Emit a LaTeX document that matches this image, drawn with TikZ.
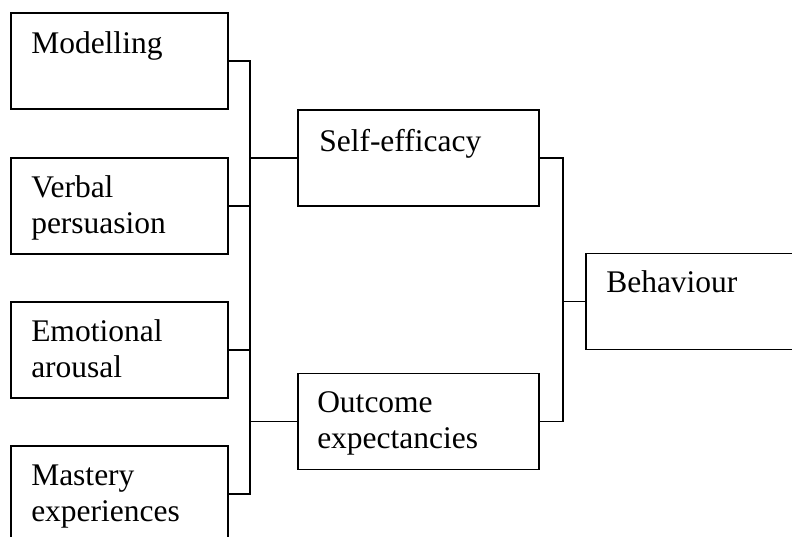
\documentclass[tikz,border=0pt]{standalone}
\usepackage{fontspec}
\setmainfont{Liberation Serif}
\begin{document}
\begin{tikzpicture}[x=1pt,y=-1pt,
  box/.style={draw=black,line width=1.9pt,rectangle,inner sep=0pt,fill=white},
  lbox/.style={box,minimum width=217pt,minimum height=96pt},
  mbox/.style={box,minimum width=241pt,minimum height=96pt},
  txt/.style={anchor=base west,inner sep=0pt,align=left,font=\fontsize{31.5}{36}\selectfont},
  conn/.style={draw=black,line width=1.9pt}]
\useasboundingbox (0,0) rectangle (792,537);
\clip (0,0) rectangle (792,537);
% left boxes
\node[lbox] (mod) at (119.5,61) {};
\node[lbox] (ver) at (119.5,206) {};
\node[lbox] (emo) at (119.5,350) {};
\node[lbox] (mas) at (119.5,494) {};
\node[txt] (tmod) at ([xshift=21pt,yshift=-41pt]mod.north west) {Modelling};
\node[txt] (tver) at ([xshift=21pt,yshift=-76pt]ver.north west) {Verbal\\persuasion};
\node[txt] (temo) at ([xshift=21pt,yshift=-76pt]emo.north west) {Emotional\\arousal};
\node[txt] (tmas) at ([xshift=21pt,yshift=-76pt]mas.north west) {Mastery\\experiences};
% middle boxes
\node[mbox] (se) at (418.5,158) {};
\node[mbox] (oe) at (418.5,421.5) {};
\node[txt] (tse) at ([xshift=22pt,yshift=-42pt]se.north west) {Self-efficacy};
\node[txt] (toe) at ([xshift=20pt,yshift=-76pt]oe.north west) {Outcome\\expectancies};
% behaviour
\node[mbox] (beh) at (706.5,301.5) {};
\node[txt] (tbeh) at ([xshift=21pt,yshift=-40pt]beh.north west) {Behaviour};
% junction coordinates
\coordinate (j1) at (250,0);
\coordinate (j2) at (563,0);
% left bracket
\draw[conn] (mod.east) -- (mod.east -| j1) -- (mas.east -| j1) -- (mas.east);
\draw[conn] (ver.east) -- (ver.east -| j1);
\draw[conn] (emo.east) -- (emo.east -| j1);
\draw[conn] (se.west -| j1) -- (se.west);
\draw[conn] (oe.west -| j1) -- (oe.west);
% right bracket
\draw[conn] (se.east) -- (se.east -| j2) -- (oe.east -| j2) -- (oe.east);
\draw[conn] (beh.west -| j2) -- (beh.west);
\end{tikzpicture}
\end{document}
